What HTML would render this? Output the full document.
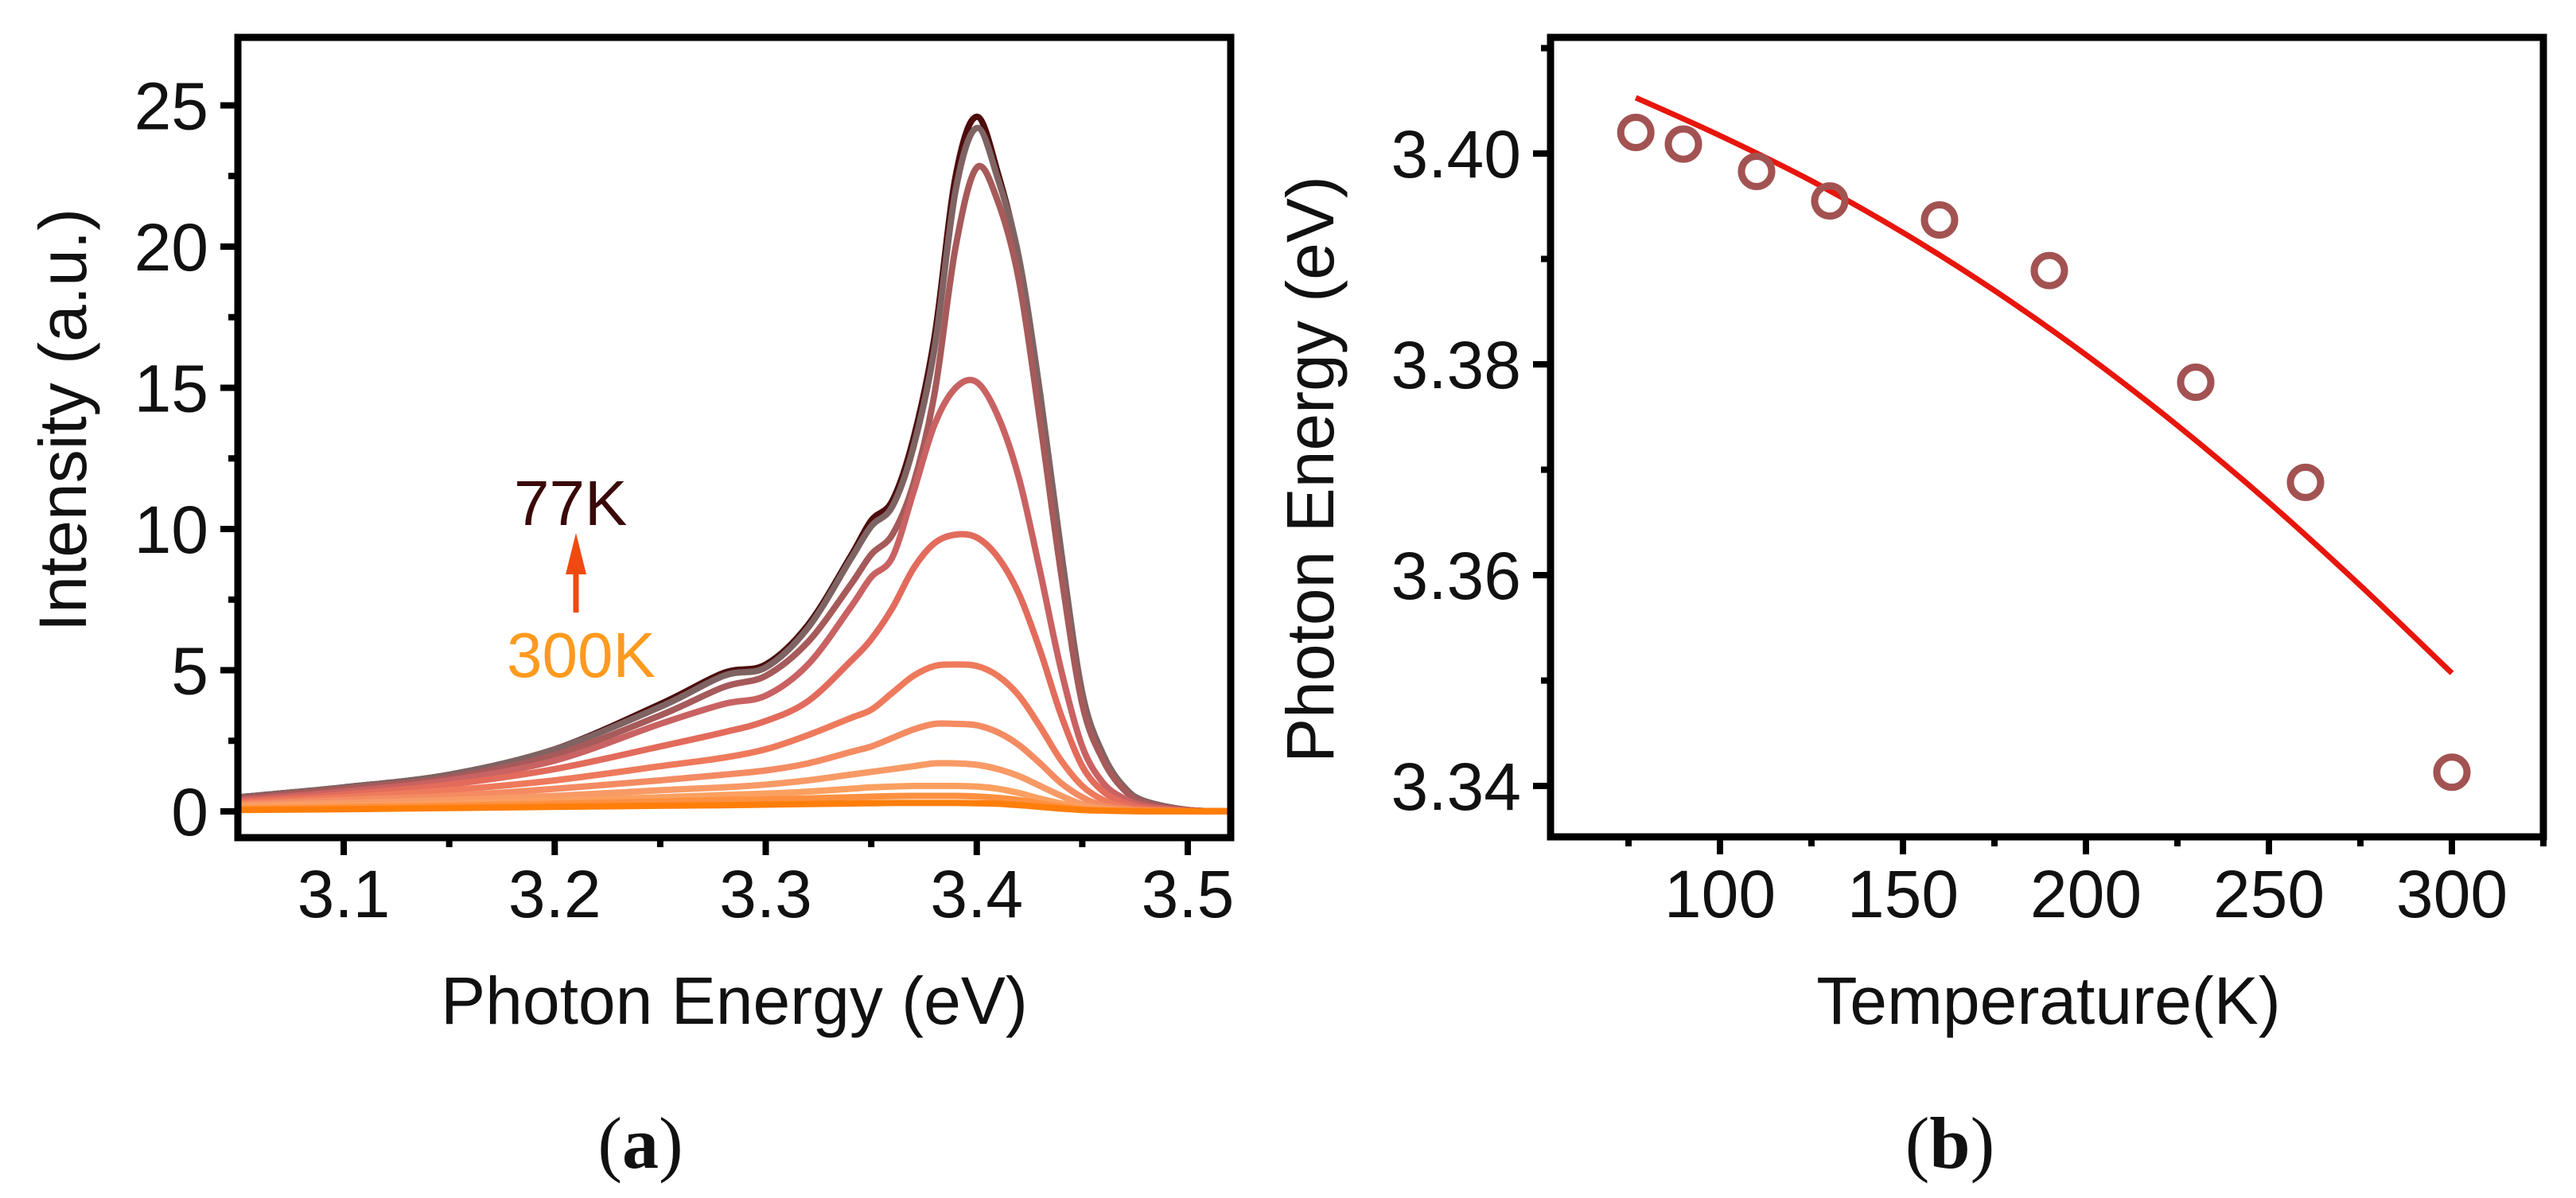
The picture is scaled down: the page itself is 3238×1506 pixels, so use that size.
<!DOCTYPE html>
<html><head><meta charset="utf-8">
<style>
html,body{margin:0;padding:0;background:#fff;}
svg{display:block;}
text{font-family:"Liberation Sans",Arial,sans-serif;fill:#111;}
</style></head>
<body>
<svg id="fig" width="3238" height="1506" viewBox="0 0 3238 1506" xmlns="http://www.w3.org/2000/svg">
  <rect width="3238" height="1506" fill="#fff"/>
  <g id="panelA"></g>
  <g id="panelB"></g>
</svg>
<script>
// ---------- Panel (a) data ----------
const energies = [3.05,3.10,3.15,3.20,3.25,3.28,3.30,3.32,3.34,3.35,3.36,3.37,3.38,3.39,3.40,3.41,3.42,3.43,3.44,3.45,3.46,3.47,3.48,3.50,3.52];
const spec77a = [0.5,0.85,1.3,2.2,3.8,4.9,5.2,6.6,9.0,10.3,11.0,13.2,16.8,22.5,24.6,22.6,19.5,14.5,8.9,4.0,1.9,0.8,0.35,0.05,0];
const spec77b = [0.5,0.85,1.3,2.2,3.7,4.8,5.1,6.5,8.9,10.1,10.8,12.9,16.4,22.0,24.2,22.4,19.6,14.8,9.2,4.2,2.0,0.85,0.35,0.05,0];
const spec90  = [0.45,0.8,1.2,2.0,3.4,4.4,4.8,6.0,8.0,9.1,9.8,11.6,14.8,20.0,22.8,21.6,18.8,13.8,8.4,3.8,1.8,0.75,0.3,0.05,0];
const spec110 = [0.4,0.7,1.1,1.8,3.1,3.8,4.1,5.2,7.2,8.3,9.0,11.3,13.7,15.0,15.2,14.0,11.8,8.5,5.0,2.3,1.0,0.45,0.2,0.03,0];
const spec130 = [0.35,0.6,0.95,1.5,2.3,2.8,3.2,3.9,5.3,6.1,7.2,8.6,9.5,9.8,9.7,9.0,7.7,5.7,3.4,1.6,0.7,0.3,0.12,0.02,0];
const spec160 = [0.3,0.5,0.75,1.1,1.6,1.9,2.2,2.7,3.3,3.6,4.2,4.8,5.15,5.2,5.15,4.8,4.1,3.0,1.8,0.9,0.4,0.15,0.06,0.01,0];
const spec190 = [0.25,0.4,0.55,0.8,1.1,1.3,1.45,1.7,2.1,2.3,2.6,2.9,3.1,3.1,3.05,2.8,2.35,1.7,1.0,0.5,0.2,0.08,0.03,0,0];
const spec230 = [0.2,0.3,0.4,0.55,0.75,0.85,0.95,1.1,1.3,1.4,1.5,1.6,1.7,1.7,1.65,1.5,1.25,0.9,0.55,0.25,0.1,0.04,0.02,0,0];
const spec260 = [0.15,0.2,0.28,0.38,0.5,0.58,0.63,0.7,0.8,0.85,0.88,0.9,0.9,0.9,0.88,0.8,0.65,0.45,0.28,0.12,0.05,0.02,0.01,0,0];
const spec280 = [0.1,0.15,0.2,0.27,0.35,0.4,0.42,0.46,0.5,0.52,0.54,0.55,0.55,0.55,0.53,0.48,0.4,0.28,0.17,0.08,0.03,0.01,0,0,0];
const spec300 = [0.05,0.08,0.12,0.16,0.2,0.22,0.24,0.26,0.28,0.29,0.3,0.3,0.3,0.3,0.29,0.27,0.22,0.16,0.1,0.05,0.03,0.02,0.01,0.01,0.01];
const spectraNames = ['77K-a','77K-b','90K','110K','130K','160K','190K','230K','260K','280K','300K'];
const xTicksA = [3.1,3.2,3.3,3.4,3.5];
const yTicksA = [0,5,10,15,20,25];

// ---------- Panel (b) data ----------
const temps = [77,90,110,130,160,190,230,260,300];
const peakEnergy = [3.4020,3.4009,3.3983,3.3955,3.3937,3.3889,3.3783,3.3688,3.3413];
const fitTemps = [77,100,125,150,175,200,225,250,275,300];
const fitEnergy = [3.4053,3.4017,3.3974,3.3925,3.3870,3.3809,3.3742,3.3669,3.3590,3.3507];
const xTicksB = [100,150,200,250,300];
const yTicksB = [3.34,3.36,3.38,3.40];

const NS='http://www.w3.org/2000/svg';
function el(tag, attrs, parent){const e=document.createElementNS(NS,tag);for(const k in attrs)e.setAttribute(k,attrs[k]);parent.appendChild(e);return e;}
function smoothPath(pts){
  let d='M'+pts[0][0].toFixed(1)+','+pts[0][1].toFixed(1);
  for(let i=0;i<pts.length-1;i++){
    const p0=pts[i-1]||pts[i],p1=pts[i],p2=pts[i+1],p3=pts[i+2]||p2;
    const c1=[p1[0]+(p2[0]-p0[0])/6,p1[1]+(p2[1]-p0[1])/6];
    const c2=[p2[0]-(p3[0]-p1[0])/6,p2[1]-(p3[1]-p1[1])/6];
    d+=' C'+c1[0].toFixed(1)+','+c1[1].toFixed(1)+' '+c2[0].toFixed(1)+','+c2[1].toFixed(1)+' '+p2[0].toFixed(1)+','+p2[1].toFixed(1);
  }
  return d;
}

// ---------- Panel (a) ----------
(function(){
  const g=document.getElementById('panelA');
  const L=299,R=1547,T=47,B=1053;
  const xA=e=>299.4+(e-3.05)*2652.5;
  const yA=v=>1020-v*35.5;
  const series=[spec77a,spec77b,spec90,spec110,spec130,spec160,spec190,spec230,spec260,spec280,spec300];
  const colors=['#4e0c0c','#7f6363','#a65a5a','#c96262','#e26b5c','#ee7a5c','#f48b62','#f89a66','#fba060','#ff9040','#ff7e0a'];
  const clip=el('clipPath',{id:'clipA'},g);
  el('rect',{x:L,y:T,width:R-L,height:B-T},clip);
  const cg=el('g',{'clip-path':'url(#clipA)'},g);
  
  
  series.forEach((s,i)=>{
    const pts=energies.map((e,j)=>[xA(e),yA(s[j])]);
    const p=el('path',{d:smoothPath(pts),fill:'none',stroke:colors[i],'stroke-width':8,'stroke-linejoin':'round'},cg);
    
    
  });
  const frame=el('rect',{x:L,y:T,width:R-L,height:B-T,fill:'none',stroke:'#000','stroke-width':9},g);
  
  
  xTicksA.forEach(t=>{
    const x=xA(t);
    el('line',{x1:x,y1:B,x2:x,y2:B+22,stroke:'#000','stroke-width':8},g);
    const tx=el('text',{x:x,y:1153,'font-size':84,'text-anchor':'middle'},g);
    tx.textContent=t.toFixed(1);
    
    
  });
  for(let t=3.15;t<3.52;t+=0.1){const x=xA(t);el('line',{x1:x,y1:B,x2:x,y2:B+12,stroke:'#000','stroke-width':8},g);}
  yTicksA.forEach(t=>{
    const y=yA(t);
    el('line',{x1:L,y1:y,x2:L-22,y2:y,stroke:'#000','stroke-width':8},g);
    const tx=el('text',{x:262,y:y+30,'font-size':84,'text-anchor':'end'},g);
    tx.textContent=t;
    
    
  });
  for(let t=2.5;t<27;t+=5){const y=yA(t);el('line',{x1:L,y1:y,x2:L-12,y2:y,stroke:'#000','stroke-width':8},g);}
})();

// ---------- Panel (b) ----------
(function(){
  const g=document.getElementById('panelB');
  const L=1949,R=3197,T=47,B=1052;
  const xB=t=>2162+(t-100)*4.6;
  const yB=v=>193+(3.40-v)*13250;
  const frame=el('rect',{x:L,y:T,width:R-L,height:B-T,fill:'none',stroke:'#000','stroke-width':9},g);
  
  
  const fit=el('path',{d:smoothPath(fitTemps.map((t,i)=>[xB(t),yB(fitEnergy[i])])),fill:'none',stroke:'#e8150c','stroke-width':7},g);
  
  
  temps.forEach((t,i)=>{
    const c=el('circle',{cx:xB(t),cy:yB(peakEnergy[i]),r:19,fill:'none',stroke:'#a35252','stroke-width':9},g);
    
    
  });
  xTicksB.forEach(t=>{
    const x=xB(t);
    el('line',{x1:x,y1:B,x2:x,y2:B+22,stroke:'#000','stroke-width':8},g);
    const tx=el('text',{x:x,y:1153,'font-size':84,'text-anchor':'middle'},g);
    tx.textContent=t;
    
    
  });
  for(let t=75;t<=325;t+=50){const x=xB(t);el('line',{x1:x,y1:B,x2:x,y2:B+12,stroke:'#000','stroke-width':8},g);}
  yTicksB.forEach(t=>{
    const y=yB(t);
    el('line',{x1:L,y1:y,x2:L-22,y2:y,stroke:'#000','stroke-width':8},g);
    const tx=el('text',{x:1912,y:y+30,'font-size':84,'text-anchor':'end'},g);
    tx.textContent=t.toFixed(2);
    
    
  });
  [3.35,3.37,3.39,3.41].forEach(t=>{const y=yB(t);el('line',{x1:L,y1:y,x2:L-12,y2:y,stroke:'#000','stroke-width':8},g);});
})();
</script>
<svg style="position:absolute;left:0;top:0" width="3238" height="1506" viewBox="0 0 3238 1506">
  <text x="0" y="0" font-size="84" text-anchor="middle" transform="translate(108,528) rotate(-90)">Intensity (a.u.)</text>
  <text x="923" y="1287" font-size="84" text-anchor="middle">Photon Energy (eV)</text>
  <text x="646" y="660" font-size="80" style="fill:#3a0808">77K</text>
  <path d="M724 770 L724 718" stroke="#f04a10" stroke-width="7" fill="none"/>
  <path d="M711 722 L724 670 L737 722 Z" fill="#f04a10"/>
  <text x="637" y="851" font-size="80" style="fill:#ff9a1e">300K</text>
  <text x="805" y="1468" font-size="92" text-anchor="middle" style="font-family:'Liberation Serif',serif">(<tspan font-weight="bold">a</tspan>)</text>
  <text x="0" y="0" font-size="84" text-anchor="middle" transform="translate(1676,590) rotate(-90)">Photon Energy (eV)</text>
  <text x="2575" y="1287" font-size="84" text-anchor="middle">Temperature(K)</text>
  <text x="2451" y="1468" font-size="92" text-anchor="middle" style="font-family:'Liberation Serif',serif">(<tspan font-weight="bold">b</tspan>)</text>
</svg>
</body></html>
